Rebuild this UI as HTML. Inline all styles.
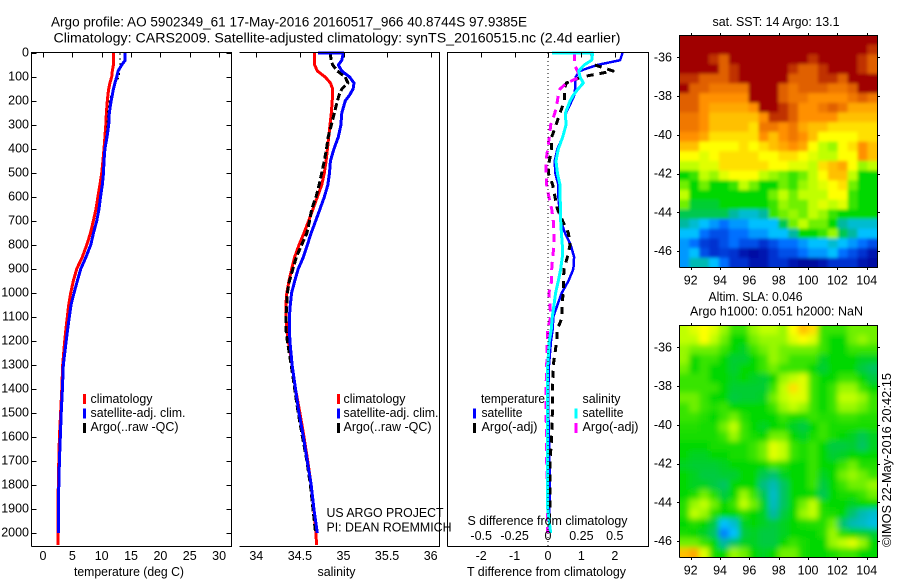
<!DOCTYPE html>
<html>
<head>
<meta charset="utf-8">
<title>Argo profile</title>
<style>
html,body{margin:0;padding:0;background:#fff;width:900px;height:580px;overflow:hidden}
svg{display:block}
text{font-family:"Liberation Sans",sans-serif;font-size:12.5px;fill:#000}
</style>
</head>
<body>
<svg id="fig" width="900" height="580" viewBox="0 0 900 580" xmlns="http://www.w3.org/2000/svg">
<defs>
<clipPath id="clip-sst"><rect x="679.5" y="35" width="198" height="232.5"/></clipPath>
<clipPath id="clip-sla"><rect x="679.5" y="325" width="198" height="232.5"/></clipPath>
<filter id="smooth" filterUnits="userSpaceOnUse" x="650" y="300" width="250" height="280"><feGaussianBlur stdDeviation="3"/></filter>
<filter id="soften" filterUnits="userSpaceOnUse" x="650" y="10" width="250" height="280"><feGaussianBlur stdDeviation="1.5"/></filter>
</defs>
<g clip-path="url(#clip-sst)"><g id="sst-cells" filter="url(#soften)"></g></g>
<g clip-path="url(#clip-sla)"><g id="sla-cells" filter="url(#smooth)"></g></g>
<g id="marks"></g>
<g id="axes"></g>

<text x="51" y="26.5" style="font-size:13.5px" textLength="476" lengthAdjust="spacingAndGlyphs">Argo profile: AO 5902349_61 17-May-2016 20160517_966 40.8744S 97.9385E</text>
<text x="53.5" y="42.5" style="font-size:13.5px" textLength="567" lengthAdjust="spacingAndGlyphs">Climatology: CARS2009. Satellite-adjusted climatology: synTS_20160515.nc (2.4d earlier)</text>

<text x="74" y="576" textLength="110" lengthAdjust="spacingAndGlyphs">temperature (deg C)</text>
<text x="317.5" y="576" textLength="38" lengthAdjust="spacingAndGlyphs">salinity</text>
<text x="467" y="576" textLength="159" lengthAdjust="spacingAndGlyphs">T difference from climatology</text>
<text x="467.5" y="525" textLength="160" lengthAdjust="spacingAndGlyphs">S difference from climatology</text>

<g>
<rect x="83" y="394" width="3" height="10" fill="#f00"/>
<text x="90.5" y="403" textLength="62" lengthAdjust="spacingAndGlyphs">climatology</text>
<rect x="83" y="408.5" width="3" height="10" fill="#00f"/>
<text x="90.5" y="417" textLength="95" lengthAdjust="spacingAndGlyphs">satellite-adj. clim.</text>
<rect x="83" y="423" width="3" height="10" fill="#000"/>
<text x="90.5" y="431" textLength="88" lengthAdjust="spacingAndGlyphs">Argo(..raw -QC)</text>
</g>
<g>
<rect x="337" y="394" width="3" height="10" fill="#f00"/>
<text x="343.5" y="403" textLength="62" lengthAdjust="spacingAndGlyphs">climatology</text>
<rect x="337" y="408.5" width="3" height="10" fill="#00f"/>
<text x="343.5" y="417" textLength="95" lengthAdjust="spacingAndGlyphs">satellite-adj. clim.</text>
<rect x="337" y="423" width="3" height="10" fill="#000"/>
<text x="343.5" y="431" textLength="88" lengthAdjust="spacingAndGlyphs">Argo(..raw -QC)</text>
</g>
<text x="326.5" y="517" textLength="117" lengthAdjust="spacingAndGlyphs">US ARGO PROJECT</text>
<text x="326.5" y="531.5" textLength="125" lengthAdjust="spacingAndGlyphs">PI: DEAN ROEMMICH</text>
<g>
<text x="481" y="403" textLength="64" lengthAdjust="spacingAndGlyphs">temperature</text>
<rect x="473" y="408.5" width="3" height="10" fill="#00f"/>
<text x="481.5" y="417" textLength="41" lengthAdjust="spacingAndGlyphs">satellite</text>
<rect x="473" y="423" width="3" height="10" fill="#000"/>
<text x="481.5" y="431" textLength="56" lengthAdjust="spacingAndGlyphs">Argo(-adj)</text>
<text x="582.5" y="403" textLength="38" lengthAdjust="spacingAndGlyphs">salinity</text>
<rect x="574.5" y="408.5" width="3" height="10" fill="#0ff"/>
<text x="582.5" y="417" textLength="41" lengthAdjust="spacingAndGlyphs">satellite</text>
<rect x="574.5" y="423" width="3" height="10" fill="#f0f"/>
<text x="582.5" y="431" textLength="56" lengthAdjust="spacingAndGlyphs">Argo(-adj)</text>
</g>

<text x="712.5" y="26" textLength="127" lengthAdjust="spacingAndGlyphs">sat. SST: 14  Argo: 13.1</text>
<text x="708.5" y="301" textLength="94" lengthAdjust="spacingAndGlyphs">Altim. SLA: 0.046</text>
<text x="690" y="315.5" textLength="173" lengthAdjust="spacingAndGlyphs">Argo h1000: 0.051 h2000: NaN</text>
<text transform="translate(891 547) rotate(-90)" textLength="174" lengthAdjust="spacingAndGlyphs">©IMOS 22-May-2016 20:42:15</text>
</svg>
<script>
// ---- profile data ----
const depths = [0,0,30,50,75,100,125,150,175,200,250,300,350,400,450,500,550,600,650,700,750,800,850,900,950,1000,1050,1100,1150,1200,1300,1400,1500,1600,1700,1800,1900,2000,2050];
const tempClim = [12,12,12,12,11.8,11.7,11.4,11.2,11.05,10.95,10.8,10.7,10.55,10.4,10.2,10,9.7,9.35,9.03,8.57,8.1,7.44,6.7,5.74,5.17,4.72,4.37,4.14,3.9,3.7,3.35,3.2,3,2.8,2.7,2.6,2.55,2.55,2.55];
const tempSat = [14,14,14,13.4,12.8,12.55,12.25,12,11.8,11.6,11.3,11.2,10.9,10.55,10.4,10.3,10.1,9.8,9.54,9.15,8.6,8.12,7.33,6.42,5.84,5.28,4.77,4.48,4.2,3.95,3.45,3.3,3.1,2.95,2.8,2.7,2.6,2.6];
const tempArgo = [13.1,13.1,13.1,13.1,13.05,13,12.3,11.9,11.6,11.3,11,10.9,10.7,10.5,10.3,10.15,9.9,9.7,9.45,9.05,8.5,8,7.25,6.35,5.75,5.2,4.7,4.45,4.2,3.95,3.55,3.4,3.2,3.05,2.85,2.7,2.6];
const salClim = [34.67,34.67,34.67,34.67,34.7,34.79,34.85,34.876,34.875,34.87,34.86,34.845,34.83,34.815,34.8,34.78,34.75,34.7,34.65,34.6,34.547,34.49,34.44,34.406,34.375,34.35,34.34,34.34,34.35,34.367,34.41,34.45,34.5,34.547,34.59,34.63,34.66,34.685,34.69];
const salSat = [34.71,34.998,34.98,34.94,34.98,35.07,35.12,35.11,35.07,35.02,34.98,34.97,34.94,34.89,34.85,34.84,34.82,34.78,34.73,34.68,34.63,34.585,34.54,34.48,34.44,34.405,34.39,34.38,34.38,34.385,34.41,34.45,34.49,34.54,34.585,34.63,34.66,34.7];
const salArgo = [34.845,34.845,34.86,34.876,34.93,35.02,35.05,34.98,34.95,34.93,34.895,34.86,34.825,34.805,34.78,34.75,34.72,34.685,34.635,34.61,34.58,34.52,34.46,34.42,34.38,34.355,34.35,34.34,34.34,34.355,34.4,34.44,34.48,34.53,34.58,34.62,34.65,34.68];
const diffTempSat = [2.23,2.23,2.16,1.47,0.95,0.83,0.81,0.81,0.79,0.71,0.54,0.53,0.44,0.28,0.2,0.22,0.31,0.31,0.34,0.38,0.51,0.68,0.78,0.76,0.61,0.41,0.28,0.16,0.14,0.09,0.03,0.01,0.01,0.03,0.04,0.06,0.04,0.04];
const diffTempArgo = [1.31,1.31,1.31,1.4,1.95,1,0.55,0.49,0.49,0.49,0.36,0.24,0.11,0.11,0.04,0.01,0.14,0.21,0.28,0.44,0.61,0.66,0.58,0.48,0.46,0.46,0.41,0.43,0.28,0.26,0.16,0.13,0.13,0.11,0.06,0.06,0.06,0.01];
const diffSalSat = [0.03,0.334,0.327,0.27,0.23,0.24,0.264,0.225,0.19,0.165,0.13,0.135,0.11,0.077,0.06,0.07,0.09,0.09,0.095,0.095,0.1,0.107,0.107,0.095,0.077,0.057,0.045,0.032,0.025,0.01,-0.002,-0.005,-0.005,-0.002,-0.002,-0.002,-0.002,0.02];
const diffSalArgo = [0.197,0.197,0.197,0.2,0.22,0.24,0.14,0.09,0.077,0.07,0.052,0.02,0.01,-0.002,-0.015,-0.015,-0.01,0.007,0.028,0.04,0.045,0.045,0.035,0.028,0.028,0.007,0.015,0.02,-0.002,-0.005,-0.01,-0.015,-0.015,-0.01,-0.01,-0.005,-0.002,-0.002];

// ---- tick labels ----
const depthTicks = [0,100,200,300,400,500,600,700,800,900,1000,1100,1200,1300,1400,1500,1600,1700,1800,1900,2000];
const tempTicks = [0,5,10,15,20,25,30];
const salTicks = [34,34.5,35,35.5,36];
const diffTTicks = [-2,-1,0,1,2];
const diffSTicks = [-0.5,-0.25,0,0.25,0.5];
const lonTicks = [92,94,96,98,100,102,104];
const latTicks = [-36,-38,-40,-42,-44,-46];

// ---- map data (colour-scale level per cell, north to south) ----
const sstGrid = [
[12,12,12,12,12,12,12,12,12,12,12,12,12,12,12,12,12,12,12,12],
[12,12,12,12,12,12,12,12,12,12,12,12,12,12,12,12,12,12,12,11.5],
[12,12,12,11.5,11,12,12,12,12,12,12,12,12,11.5,12,12,12,12,11.5,11],
[12,12,12,12,11,11.5,12,12,12,12,12,11.5,11,11,11.5,12,12,12,11.5,11],
[11.5,11.5,11,11,11,11.5,12,12,12,12,12,11,11,11,11.5,11.5,11,12,12,12],
[12,11,11,10.5,10.5,10.5,10.5,12,12,12,11,10.5,11,11,11,10.5,10.5,11,12,12],
[11,11,10,10,10,10,10,12,12,12,11,10.5,10.5,10,10,10,10,10.5,11,10.5],
[11,11,10,9.5,9.5,9.5,9.5,10,12,12,11.5,11,10,10,10.5,11,10.5,9.5,9.5,9.5],
[10.5,10.5,10,9,9,9,9,9,10,11.5,11.5,11,10,10,10,10,9,9,9,9],
[10.5,10.5,10,9,9,9,9,8.5,10.5,10.5,10,10.5,9.5,9,9,8.5,8.5,8.5,8.5,8.5],
[10,10,9.5,8.5,8.5,8.5,8.5,8.5,10,9,10,10.5,10,9,8,8,8,8,8.5,8.5],
[9,9,8,8,8,8,8.5,8,8.5,9,9.5,10,9.5,8,7,6.5,8,8.5,10,9],
[8,8,7.5,8,8.5,8.5,8.5,8.5,8,8,8.5,8.5,8,7.5,7,7,8,8,10,9],
[7,7,7.5,7.5,8.5,8.5,8.5,8.5,8.5,8,8,7.5,7.5,7,8.5,9,9.5,8,6.5,7],
[5,5.5,7,6.5,7.5,8,8,8,7,6.5,6,5.5,6,7,8,9,9,7,5,5],
[6,5,6,5,5,5.5,7,6,5,5,6,5.5,6.5,7,7.5,8,8.5,6,5,5],
[7,5,5,5,5,5,5,5,5,6,7,6,7,7,7,8,8,5.5,5,5],
[6,4.7,4.7,4.7,5,5,5,5,5,5.5,6.5,6,6,7,7.5,7,7.5,5.5,5,5],
[4.5,4.5,4.5,4.5,4.5,4,3.5,3.5,4,5.5,6,6.5,6,7,6.5,5.5,5,5,5,5],
[4,3.5,3,2.5,2,2.5,2.5,3,3,3,4.5,6,7,6,6,5,4,3.5,3.5,3.5],
[3,3,2,1.5,1.5,2,2,2.5,2.5,3,3,4,5,5,5.5,6.5,4.5,4,3,3],
[2.5,2,1.2,1,1.5,2,1.5,1.5,1,1.5,2,2,2.5,3,3,3.5,3,2.5,2,1.5],
[2.5,3,1.5,1,1.2,1,0.5,0.3,0.5,1,1.5,1.5,2,2.5,2.5,3,2,1.5,1,0.5],
[2.5,3.8,3.8,3,2,1,1,0.5,0.5,1,1,0.5,0.2,0.2,0.5,1,1,1,0.5,0.3]
];
const slaGrid = [
[7,7.5,8,7.5,6.5,5.5,5.5,6.5,7,7,6.5,8,9,8.5,5.5,5.5,5.5,6,6,6],
[7,7,8,7,6,5,5,6,6.5,6.5,6.5,7.5,8,7.5,5.5,5,5,6,6.5,6],
[6.5,6,6,6,5.5,5,4.8,5.5,6,6.5,6,6,6,6,5.5,5,5,5.5,5.5,5.5],
[6.5,5,5.5,5.5,5,4.7,4.7,5,5.5,6.5,6,5.5,5.5,5.5,4.8,5,5,5,4.8,4.8],
[6,5,5.5,5,5,4.7,5,5,5.5,6,5.5,5.5,5.5,5,4.7,5,5,5,4.6,4.4],
[5.5,5.5,5.5,5,5,4.8,5,4.8,4.7,5,6.5,7,7.5,5.5,5,5,5.5,5.5,5,4.6],
[5.5,5.5,5.5,5.5,5,4.7,4.7,4.7,4.7,5.5,7,8.5,7.5,5.5,5,5.5,6.5,6.5,5.5,5],
[6,6,5.5,5,5,4.6,4.7,4.7,4.8,6,7,7.5,7.5,5.5,5,5.5,7,7,6.5,5.5],
[5.5,6,5.5,5.3,5.5,5,5,5,5,5.5,6.5,7,6.5,5.5,5,5.5,6.5,6.5,6,5.5],
[5.5,5.5,5.3,5,5.5,6,5.3,5,5,5,5.5,5.2,5.2,5.5,5.3,5.3,5.5,5.5,5.3,5.3],
[5.3,5.3,5.2,5.2,6,7,5.5,5,4.8,5,5.2,4.8,4.6,5,5.5,5.2,5.2,5.2,5.2,5.2],
[5.2,5.2,5.2,5.2,5.5,6.5,5.5,5.2,5,6,6,5,4.8,5.2,5.5,5.2,5,4.8,4.5,4.8],
[5,5,5,5.2,5.2,5.2,5.2,5.5,6,7.5,7,5.5,5.2,5.5,5,4.6,4.6,4.7,4.4,4.8],
[5,4.8,4.8,5,5,5.2,5.2,5.5,6,7.5,7,5.5,5.2,5.5,5,4.7,4.8,5,5,5],
[4.8,4.7,4.7,4.7,4.8,5,5,5,5,5.5,5.3,5,5,5.5,5,5,5.5,6,5.3,5.3],
[5,4.8,4.6,4.6,4.7,4.7,5,5,4.5,4.3,4.8,5,5,5.5,4.8,5,6,6.5,6,5.5],
[5,4.8,4.8,4.6,4.4,5,5,5,4.2,3.8,4.4,5,5,5.5,4.6,5,5.5,6,6,6.5],
[5,5.2,6,5.3,4.6,5,6.5,5.5,4.5,3.6,4.4,5,5,5,4.5,5,5.2,5.2,5.5,6],
[5.3,6.5,7,6,5,5.5,7,6,4.8,3.7,4.4,5,6,7,5.2,5,5,4.8,5,5],
[5.3,7,6.5,5.3,5,5,5.3,5,4.8,4,4.6,5,6.5,7,5.3,5.2,5,4.3,3.8,3.5],
[5,5.3,5,4.6,3,3.5,4.8,5,4.8,4.6,4.8,5,5.2,5.3,5.3,6,4.3,3.8,3.6,3.3],
[5.2,5,4.8,4.4,2.2,3,4.6,4.8,4.6,4.6,4.8,5,5,5,5.3,6.5,5.3,5,4.8,4.7],
[6,6,5.5,5,4,4.4,4.8,4.8,4.6,4.6,5,5.5,5.2,5,5,6.5,7,7.5,6.5,5],
[9,9.5,7.5,5.2,5,6.5,6,5,4.8,5,6,6,5.2,5,5,5.2,5.5,5.5,5,5]
];
const paletteStops = ['#000090','#0030d0','#0070ff','#00c0ff','#00b8a0','#00d800','#70f000','#c0ff00','#ffff00','#ffc000','#ff9000','#e06000','#a00000'];

const NS = 'http://www.w3.org/2000/svg';
const fig = document.getElementById('fig');
const marks = document.getElementById('marks');
const axes = document.getElementById('axes');

// ---- axis functions ----
const yDepth = d => 53 + 0.24 * d;
const xTemp = t => 43 + 5.87 * t;
const xSal = s => 256.3 + 87.2 * (s - 34);
const xDiffT = t => 548 + 33.4 * t;
const xDiffS = s => 548 + 133.6 * s;
const xLon = lon => 690.7 + 14.67 * (lon - 92);
const ySstLat = lat => 57.3 + 19.37 * (-36 - lat);
const ySlaLat = lat => 347.3 + 19.37 * (-36 - lat);

function mk(tag, parent, props) {
  const el = document.createElementNS(NS, tag);
  for (const k in props) el.setAttribute(k, props[k]);
  parent.appendChild(el);
  return el;
}

function drawProfile(name, values, xFn, color, width, dash) {
  const pts = values.map((v, i) => xFn(v).toFixed(1) + ',' + yDepth(depths[i]).toFixed(1)).join(' ');
  const line = mk('polyline', marks, {points: pts, fill: 'none', stroke: color, 'stroke-width': width, 'shape-rendering': 'crispEdges', 'stroke-linejoin': 'round'});
  if (dash) line.setAttribute('stroke-dasharray', dash);
  
  
}

function drawBox(name, x0, x1, y0, y1, hasLeft) {
  const d = (hasLeft ? 'M' + x0 + ' ' + y1 + 'V' + y0 : 'M' + x0 + ' ' + y0) + 'H' + x1 + 'V' + y1 + 'H' + x0;
  const p = mk('path', axes, {d: d, fill: 'none', stroke: '#000', 'stroke-width': 1, 'shape-rendering': 'crispEdges'});
  
  
}

function tickLine(name, x1, y1, x2, y2) {
  const l = mk('line', axes, {x1: x1, y1: y1, x2: x2, y2: y2, stroke: '#000', 'stroke-width': 1, 'shape-rendering': 'crispEdges'});
  
  
}

function tickText(name, x, y, anchor, str) {
  const t = mk('text', axes, {x: x, y: y, 'text-anchor': anchor});
  t.textContent = str;
  
  
}

function drawCells(target, grid, yLat, name) {
  const lonL = 91.22, lonR = 104.72, latT = -34.85, latB = -46.85;
  const rows = grid.length, cols = grid[0].length;
  grid.forEach((row, r) => row.forEach((v, c) => {
    let x0 = xLon(lonL + c * (lonR - lonL) / cols), x1 = xLon(lonL + (c + 1) * (lonR - lonL) / cols);
    let y0 = yLat(latT + r * (latB - latT) / rows), y1 = yLat(latT + (r + 1) * (latB - latT) / rows);
    if (c === 0) x0 -= 15;
    if (c === cols - 1) x1 += 15;
    if (r === 0) y0 -= 15;
    if (r === rows - 1) y1 += 15;
    const cell = mk('rect', target, {x: x0.toFixed(1), y: y0.toFixed(1), width: (x1 - x0 + 0.6).toFixed(1), height: (y1 - y0 + 0.6).toFixed(1), fill: levelColor(v)});
    
    
  }));
}

function levelColor(v) {
  const lvl = Math.max(0, Math.min(12, v));
  const lo = Math.floor(lvl), hi = Math.min(12, lo + 1), f = lvl - lo;
  const a = parseInt(paletteStops[lo].slice(1), 16), b = parseInt(paletteStops[hi].slice(1), 16);
  const ch = s => Math.round(((a >> s) & 255) * (1 - f) + ((b >> s) & 255) * f);
  return 'rgb(' + ch(16) + ',' + ch(8) + ',' + ch(0) + ')';
}

// ---- heatmaps ----
drawCells(document.getElementById('sst-cells'), sstGrid, ySstLat, 'sst-cell');
drawCells(document.getElementById('sla-cells'), slaGrid, ySlaLat, 'sla-cell');

// ---- profiles ----
drawProfile('temperature-climatology-line', tempClim, xTemp, '#f00', 3);
drawProfile('temperature-argo-line', tempArgo, xTemp, '#000', 1.2, '2,3');
drawProfile('temperature-satellite-line', tempSat, xTemp, '#00f', 3);
drawProfile('salinity-climatology-line', salClim, xSal, '#f00', 3);
drawProfile('salinity-argo-line', salArgo, xSal, '#000', 3, '7,3');
drawProfile('salinity-satellite-line', salSat, xSal, '#00f', 3);
drawProfile('t-difference-satellite-line', diffTempSat, xDiffT, '#00f', 2.5);
drawProfile('t-difference-argo-line', diffTempArgo, xDiffT, '#000', 3, '7,6');
drawProfile('s-difference-argo-line', diffSalArgo, xDiffS, '#f0f', 3, '8,6');
drawProfile('s-difference-satellite-line', diffSalSat, xDiffS, '#0ff', 3);

// ---- zero line of the difference panel ----
const zeroLine = mk('line', axes, {x1: xDiffT(0), y1: 53, x2: xDiffT(0), y2: 546, stroke: '#000', 'stroke-width': 1, 'stroke-dasharray': '1,3', 'shape-rendering': 'crispEdges'});



// ---- frames ----
drawBox('temperature-axes-frame', 31.5, 231.5, 52.5, 546.5, true);
drawBox('salinity-axes-frame', 239.5, 439.5, 52.5, 546.5, false);
drawBox('difference-axes-frame', 447.5, 648.5, 52.5, 546.5, true);
drawBox('sst-map-frame', 679.5, 877.5, 35.5, 267.5, true);
drawBox('sla-map-frame', 679.5, 877.5, 325.5, 557.5, true);

// ---- depth ticks ----
depthTicks.forEach(d => {
  const y = Math.round(yDepth(d)) + 0.5;
  tickLine('depth-tick-left', 31.5, y, 36.5, y);
  tickLine('depth-tick-right', 226.5, y, 231.5, y);
  tickText('depth-tick-label', 29, yDepth(d) + 3.5, 'end', String(d));
});
// ---- x ticks ----
tempTicks.forEach(t => {
  const x = Math.round(xTemp(t)) + 0.5;
  tickLine('temperature-top-tick', x, 52.5, x, 57.5);
  tickText('temperature-tick-label', xTemp(t), 560, 'middle', String(t));
});
salTicks.forEach(s => {
  const x = Math.round(xSal(s)) + 0.5;
  tickLine('salinity-top-tick', x, 52.5, x, 57.5);
  tickText('salinity-tick-label', xSal(s), 560, 'middle', String(s));
});
diffTTicks.forEach(t => {
  const x = Math.round(xDiffT(t)) + 0.5;
  tickLine('t-difference-top-tick', x, 52.5, x, 57.5);
  tickText('t-difference-tick-label', xDiffT(t), 560, 'middle', String(t));
});
diffSTicks.forEach(s => {
  tickText('s-difference-tick-label', xDiffS(s), 540, 'middle', String(s));
});
// ---- map ticks ----
lonTicks.forEach(lon => {
  const x = Math.round(xLon(lon)) + 0.5;
  tickLine('sst-lon-tick-top', x, 33, x, 35.5);
  tickLine('sst-lon-tick-bottom', x, 267.5, x, 270);
  tickLine('sla-lon-tick-top', x, 323, x, 325.5);
  tickLine('sla-lon-tick-bottom', x, 557.5, x, 560);
  tickText('sst-lon-label', xLon(lon), 284.5, 'middle', String(lon));
  tickText('sla-lon-label', xLon(lon), 574.5, 'middle', String(lon));
});
latTicks.forEach(lat => {
  const ya = Math.round(ySstLat(lat)) + 0.5, yb = Math.round(ySlaLat(lat)) + 0.5;
  tickLine('sst-lat-tick-left', 677, ya, 679.5, ya);
  tickLine('sst-lat-tick-right', 877.5, ya, 880, ya);
  tickLine('sla-lat-tick-left', 677, yb, 679.5, yb);
  tickLine('sla-lat-tick-right', 877.5, yb, 880, yb);
  tickText('sst-lat-label', 672, ySstLat(lat) + 4, 'end', String(lat));
  tickText('sla-lat-label', 672, ySlaLat(lat) + 4, 'end', String(lat));
});
</script>
</body>
</html>
